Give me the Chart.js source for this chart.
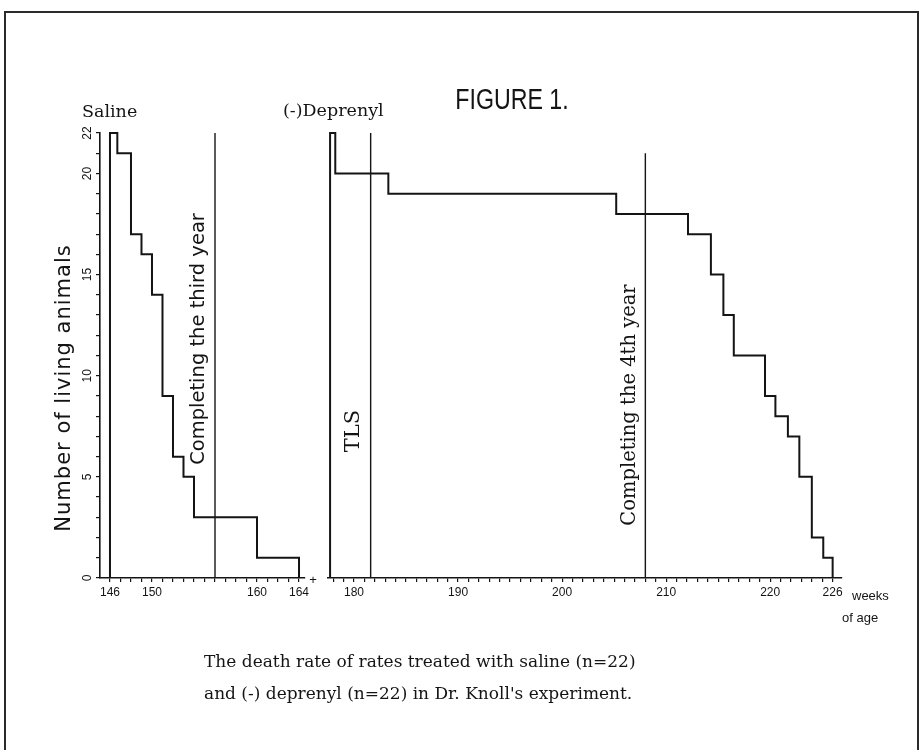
<!DOCTYPE html>
<html>
<head>
<meta charset="utf-8">
<script src="https://cdn.jsdelivr.net/npm/chart.js@4.4.1/dist/chart.umd.min.js"></script>
<style>
  html, body { margin: 0; padding: 0; background: #fff; }
  #wrap { width: 924px; height: 750px; }
</style>
</head>
<body>
<div id="wrap"><canvas id="chart" width="924" height="750"></canvas></div>
<script>
// Saline group: week of age where the count changes, and the number alive from there on
var salineWeeks = [146, 146, 146.7, 148, 149, 150, 151, 152, 153, 154, 160, 164];
var salineAlive = [0, 22, 21, 17, 16, 14, 9, 6, 5, 3, 1, 0];

// (-)Deprenyl group
var deprenylWeeks = [177.7, 177.7, 178.2, 183.3, 205.2, 212.1, 214.3, 215.5, 216.5, 219.5, 220.5, 221.7, 222.8, 224, 225.1, 226];
var deprenylAlive = [0, 22, 20, 19, 18, 17, 15, 13, 11, 9, 8, 7, 5, 2, 1, 0];

// vertical marker lines (week, top of line)
var thirdYearWeek = 156, thirdYearTop = 22;
var tlsWeek = 181.6, tlsTop = 22;
var fourthYearWeek = 208, fourthYearTop = 21;

// labelled ticks
var salineTicks = [146, 150, 160, 164];
var deprenylTicks = [180, 190, 200, 210, 220, 226];
var yTicks = [0, 5, 10, 15, 20, 22];

var INK = '#141414';
var tickFont = { family: '"Liberation Sans", sans-serif', size: 12 };

function toPoints(xs, ys) {
    return xs.map(function (x, i) { return { x: x, y: ys[i] }; });
}

function markerLine(week, top) {
    return [{ x: week, y: 0 }, { x: week, y: top }];
}

// one tick mark per whole week (or unit) between min and max
function everyUnit(scale) {
    var list = [];
    for (var v = Math.ceil(scale.min); v <= Math.floor(scale.max); v++) {
        list.push({ value: v });
    }
    scale.ticks = list;
}

function labelIf(list) {
    return function (value) {
        return list.indexOf(value) >= 0 ? String(value) : '';
    };
}

function weekAxis(weight, order, min, max, labels) {
    return {
        type: 'linear',
        position: 'bottom',
        stack: 'weeks',
        stackWeight: weight,
        weight: order,
        min: min,
        max: max,
        afterBuildTicks: everyUnit,
        afterFit: function (s) { s.height = 40; },
        grid: { drawOnChartArea: false, drawTicks: true, tickLength: 4, color: INK, lineWidth: 1.2 },
        border: { color: INK, width: 1.6 },
        ticks: {
            autoSkip: false, maxRotation: 0, padding: 3,
            color: INK, font: tickFont,
            callback: labelIf(labels)
        }
    };
}

function vText(ctx, text, x, y, font, spacing) {
    ctx.save();
    ctx.translate(x, y);
    ctx.rotate(-Math.PI / 2);
    ctx.font = font;
    ctx.letterSpacing = (spacing || 0) + 'px';
    ctx.textAlign = 'center';
    ctx.textBaseline = 'middle';
    ctx.fillText(text, 0, 0);
    ctx.restore();
}

var annotate = {
    id: 'annotate',
    afterDraw: function (chart) {
        var ctx = chart.ctx;
        var xs = chart.scales.xs, xd = chart.scales.xd;
        ctx.save();
        ctx.strokeStyle = '#2a2a2a';
        ctx.lineWidth = 2;
        ctx.strokeRect(5, 12, 913, 760);

        ctx.fillStyle = INK;
        ctx.textBaseline = 'middle';

        // narrow title lettering
        ctx.save();
        ctx.translate(512, 101);
        ctx.scale(0.8, 1);
        ctx.font = '29px "Liberation Sans", sans-serif';
        ctx.textAlign = 'center';
        ctx.fillText('FIGURE 1.', 0, 0);
        ctx.restore();

        ctx.textAlign = 'left';
        ctx.font = '17.5px "DejaVu Serif", serif';
        ctx.fillText('Saline', 82, 112);
        ctx.fillText('(-)Deprenyl', 283, 111);

        vText(ctx, 'Number of living animals', 65, 388, '21px "DejaVu Sans", sans-serif', 1);
        vText(ctx, 'Completing the third year', xs.getPixelForValue(thirdYearWeek) - 16, 339, '19.5px "DejaVu Sans", sans-serif');
        vText(ctx, 'TLS', xd.getPixelForValue(tlsWeek) - 17, 431, '21px "DejaVu Serif", serif');
        vText(ctx, 'Completing the 4th year', xd.getPixelForValue(fourthYearWeek) - 15, 405, '19.5px "DejaVu Serif", serif');

        // axis break mark and unit label
        ctx.font = '13px "Liberation Sans", sans-serif';
        ctx.textAlign = 'center';
        ctx.fillText('+', 313, 580);
        ctx.textAlign = 'left';
        ctx.fillText('weeks', 852, 596);
        ctx.fillText('of age', 842, 618);

        ctx.font = '17px "DejaVu Serif", serif';
        ctx.fillText('The death rate of rates treated with saline (n=22)', 204, 663);
        ctx.fillText("and (-) deprenyl (n=22) in Dr. Knoll's experiment.", 204, 695);
        ctx.restore();
    }
};

var stepStyle = { borderColor: INK, borderWidth: 2, pointRadius: 0, fill: false, clip: false, stepped: true, yAxisID: 'y' };
var markStyle = { borderColor: INK, borderWidth: 1.4, pointRadius: 0, fill: false, clip: false, yAxisID: 'y' };

var config = {
    type: 'line',
    data: {
        datasets: [
            Object.assign({ label: 'Saline', data: toPoints(salineWeeks, salineAlive), xAxisID: 'xs' }, stepStyle),
            Object.assign({ label: '(-)Deprenyl', data: toPoints(deprenylWeeks, deprenylAlive), xAxisID: 'xd' }, stepStyle),
            Object.assign({ label: 'Completing the third year', data: markerLine(thirdYearWeek, thirdYearTop), xAxisID: 'xs' }, markStyle),
            Object.assign({ label: 'TLS', data: markerLine(tlsWeek, tlsTop), xAxisID: 'xd' }, markStyle),
            Object.assign({ label: 'Completing the 4th year', data: markerLine(fourthYearWeek, fourthYearTop), xAxisID: 'xd' }, markStyle)
        ]
    },
    options: {
        responsive: false,
        animation: false,
        layout: { padding: { left: 5, right: 82, top: 133, bottom: 132 } },
        plugins: {
            legend: { display: false },
            title: { display: false },
            tooltip: { enabled: false }
        },
        scales: {
            xs: weekAxis(205, 0, 145.05, 164.57, salineTicks),
            xgap: {
                type: 'linear', position: 'bottom', stack: 'weeks', stackWeight: 23, weight: 1,
                min: 0, max: 1,
                afterFit: function (s) { s.height = 40; },
                grid: { display: false }, border: { display: false }, ticks: { display: false }
            },
            xd: weekAxis(514, 2, 177.5, 226.9, deprenylTicks),
            y: {
                type: 'linear', position: 'left', min: 0, max: 22,
                afterBuildTicks: everyUnit,
                afterFit: function (s) { s.width = 95; },
                grid: { drawOnChartArea: false, drawTicks: true, tickLength: 4, color: INK, lineWidth: 1.2 },
                border: { color: INK, width: 1.6 },
                ticks: {
                    autoSkip: false, minRotation: 90, maxRotation: 90, padding: 2,
                    crossAlign: 'center', color: INK, font: tickFont,
                    callback: labelIf(yTicks)
                }
            }
        }
    },
    plugins: [annotate]
};

window.onload = function () {
    var ctx = document.getElementById('chart').getContext('2d');
    window.deathChart = new Chart(ctx, config);
};
</script>
</body>
</html>
